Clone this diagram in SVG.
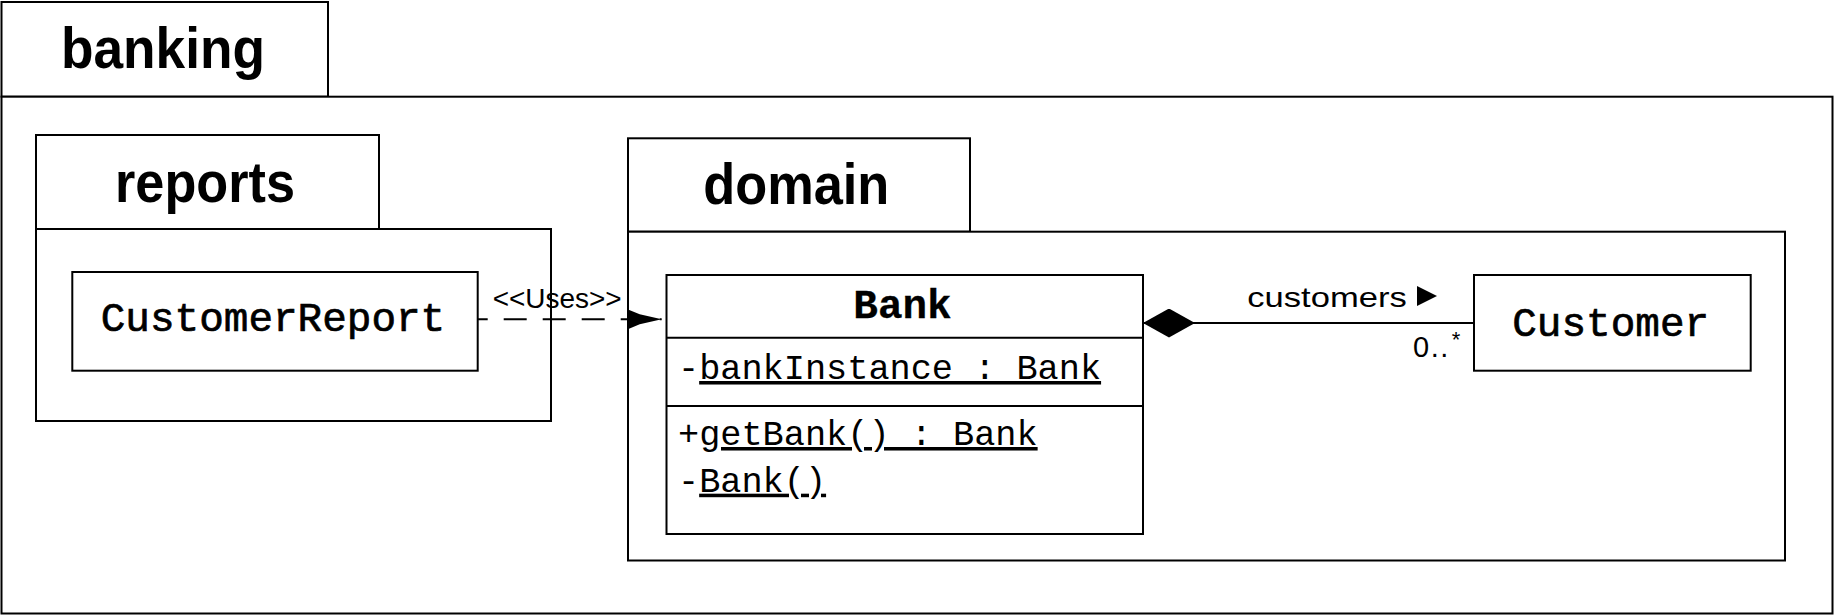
<svg xmlns="http://www.w3.org/2000/svg" width="1834" height="616" viewBox="0 0 1834 616">
  <style>
    .frame { fill: #fff; stroke: #000; stroke-width: 2; }
    .line { fill: none; stroke: #000; stroke-width: 2; }
    .pkgtitle { font-family: "Liberation Sans", Arial, sans-serif; font-weight: bold; font-size: 58px; text-anchor: middle; fill: #000; }
    .cls { font-family: "Liberation Mono", "Courier New", monospace; font-size: 41px; text-anchor: middle; fill: #000; stroke: #000; stroke-width: 0.7; }
    .clsb { font-weight: bold; stroke-width: 0.3; }
    .member { font-family: "Liberation Mono", "Courier New", monospace; font-size: 35.25px; fill: #000; }
    .lbl { font-family: "Liberation Sans", Arial, sans-serif; fill: #000; }
  </style>
  <defs>
    <marker id="arrowFilled" viewBox="0 0 34 20" refX="34" refY="10" markerWidth="34" markerHeight="20" markerUnits="userSpaceOnUse" orient="auto">
      <path d="M0,0 L12,5 L34,10 L12,15 L0,20 Z" fill="#000"/>
    </marker>
    <marker id="diamondFilled" viewBox="0 0 52 29" refX="0" refY="14.5" markerWidth="52" markerHeight="29" markerUnits="userSpaceOnUse" orient="auto">
      <path d="M0,14.5 L26,0 L52,14.5 L26,29 Z" fill="#000"/>
    </marker>
  </defs>
  <rect width="1834" height="616" fill="#fff"/>

  <g id="pkg-banking">
    <rect class="frame" x="1.5" y="2" width="326.5" height="94.7"/>
    <rect class="frame" x="1.5" y="96.7" width="1831" height="516.8"/>
    <text class="pkgtitle" x="163" y="68.3" textLength="204" lengthAdjust="spacingAndGlyphs">banking</text>
  </g>

  <g id="pkg-reports">
    <rect class="frame" x="36" y="135" width="343" height="94"/>
    <rect class="frame" x="36" y="229" width="515" height="192"/>
    <text class="pkgtitle" x="205" y="201.7" textLength="180" lengthAdjust="spacingAndGlyphs">reports</text>
  </g>

  <g id="pkg-domain">
    <rect class="frame" x="628" y="138.3" width="342" height="93.4"/>
    <rect class="frame" x="628" y="231.7" width="1157" height="328.8"/>
    <text class="pkgtitle" x="796.3" y="204" textLength="186" lengthAdjust="spacingAndGlyphs">domain</text>
  </g>

  <g id="class-CustomerReport">
    <rect class="frame" x="72.3" y="272" width="405.4" height="98.7"/>
    <text class="cls" x="273" y="331">CustomerReport</text>
  </g>

  <g id="class-Bank">
    <rect class="frame" x="666.5" y="275" width="476.5" height="259"/>
    <line class="line" x1="666.5" y1="337.7" x2="1143" y2="337.7"/>
    <line class="line" x1="666.5" y1="406" x2="1143" y2="406"/>
    <text class="cls clsb" x="902.5" y="318.3">Bank</text>
    <text class="member" x="678" y="379">-<tspan text-decoration="underline">bankInstance : Bank</tspan></text>
    <text class="member" x="678" y="445">+<tspan text-decoration="underline">getBank() : Bank</tspan></text>
    <text class="member" x="678" y="491.7">-<tspan text-decoration="underline">Bank()</tspan></text>
  </g>

  <g id="class-Customer">
    <rect class="frame" x="1474" y="275" width="276.7" height="95.7"/>
    <text class="cls" x="1610.7" y="336">Customer</text>
  </g>

  <g id="connectors">
    <path class="line" d="M477.7,319.3 L661.7,319.3" stroke-dasharray="23 16" stroke-dashoffset="13" marker-end="url(#arrowFilled)"/>
    <text class="lbl" x="492.7" y="308.3" font-size="27" textLength="129" lengthAdjust="spacingAndGlyphs">&lt;&lt;Uses&gt;&gt;</text>

    <path class="line" d="M1143,323 L1474,323" marker-start="url(#diamondFilled)"/>
    <text class="lbl" x="1247.3" y="306.7" font-size="28" textLength="159.4" lengthAdjust="spacingAndGlyphs">customers</text>
    <polygon points="1417,286 1437,296 1417,306" fill="#000"/>
    <text class="lbl" x="1413" y="356.5" font-size="29" letter-spacing="1.5">0..<tspan font-size="22" dy="-10" dx="2">*</tspan></text>
  </g>
</svg>
